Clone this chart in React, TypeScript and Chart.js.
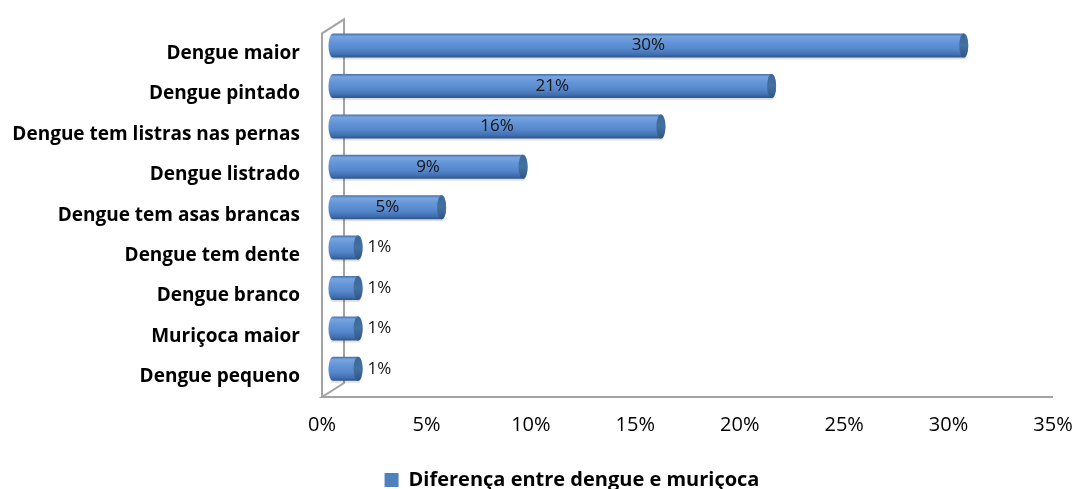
import React, { useEffect, useRef } from "react";
import { Chart, registerables } from "chart.js";

Chart.register(...registerables);

const categories = [
  "Dengue maior",
  "Dengue pintado",
  "Dengue tem listras nas pernas",
  "Dengue listrado",
  "Dengue tem asas brancas",
  "Dengue tem dente",
  "Dengue branco",
  "Muriçoca maior",
  "Dengue pequeno",
];
const values = [30.2, 21.0, 15.7, 9.1, 5.2, 1.2, 1.2, 1.2, 1.2];
const seriesName = "Diferença entre dengue e muriçoca";
const xMin = 0;
const xMax = 35;
const xStep = 5;

const FONT = "'Open Sans', Lato, sans-serif";
const DEPTH_X = 22;
const DEPTH_Y = -14;
const BAR_DX = 11;
const BAR_DY = -8;

const threeD = {
  id: "threeD",
  afterLayout(chart: any) {
    // let the category labels extend past the padded scale box without clipping
    if (chart.scales.y) chart.scales.y.left = 0;
  },
  beforeDatasetsDraw(chart: any) {
    const { ctx, chartArea: a } = chart;
    ctx.save();
    ctx.strokeStyle = "#a3a3a3";
    ctx.lineWidth = 2;
    ctx.beginPath();
    ctx.moveTo(a.left, a.bottom);
    ctx.lineTo(a.left, a.top);
    ctx.lineTo(a.left + DEPTH_X, a.top + DEPTH_Y);
    ctx.lineTo(a.left + DEPTH_X, a.bottom + DEPTH_Y);
    ctx.lineTo(a.left, a.bottom);
    ctx.lineTo(a.right, a.bottom);
    ctx.stroke();
    ctx.restore();
  },
  beforeDatasetDraw() {
    return false;
  },
  afterDatasetsDraw(chart: any) {
    const { ctx } = chart;
    const meta = chart.getDatasetMeta(0);
    const data = chart.data.datasets[0].data as number[];
    meta.data.forEach((el: any, i: number) => {
      const p = el.getProps(["x", "y", "base", "height"], true);
      const x0 = p.base + BAR_DX;
      const x1 = p.x + BAR_DX;
      const yc = p.y + BAR_DY;
      const h = p.height;
      const top = yc - h / 2;
      const bot = yc + h / 2;
      const rx = 4.5;
      const ry = h / 2;
      ctx.save();
      // soft shadow
      ctx.fillStyle = "rgba(0,0,0,0.12)";
      ctx.beginPath();
      ctx.ellipse(x0, yc + 2, rx, ry, 0, Math.PI / 2, (Math.PI * 3) / 2);
      ctx.lineTo(x1, top + 2);
      ctx.ellipse(x1, yc + 2, rx, ry, 0, -Math.PI / 2, Math.PI / 2);
      ctx.closePath();
      ctx.fill();
      // body
      const g = ctx.createLinearGradient(0, top, 0, bot);
      g.addColorStop(0, "#4170ad");
      g.addColorStop(0.12, "#79a5de");
      g.addColorStop(0.35, "#6495d8");
      g.addColorStop(0.65, "#5587cc");
      g.addColorStop(0.88, "#3f6eae");
      g.addColorStop(1, "#2c5388");
      ctx.fillStyle = g;
      ctx.beginPath();
      ctx.ellipse(x0, yc, rx, ry, 0, Math.PI / 2, (Math.PI * 3) / 2);
      ctx.lineTo(x1, top);
      ctx.ellipse(x1, yc, rx, ry, 0, -Math.PI / 2, Math.PI / 2);
      ctx.closePath();
      ctx.fill();
      // end cap
      const gc = ctx.createLinearGradient(0, top, 0, bot);
      gc.addColorStop(0, "#3c669d");
      gc.addColorStop(0.5, "#44719f");
      gc.addColorStop(1, "#2f5585");
      ctx.fillStyle = gc;
      ctx.beginPath();
      ctx.ellipse(x1, yc, rx, ry, 0, 0, Math.PI * 2);
      ctx.fill();
      ctx.restore();

      // data label
      const v = data[i];
      const txt = Math.round(v) + "%";
      ctx.save();
      ctx.font = `17px ${FONT}`;
      ctx.fillStyle = "#141414";
      ctx.textBaseline = "middle";
      if (v >= 3) {
        ctx.textAlign = "center";
        ctx.fillText(txt, (x0 + x1) / 2, yc);
      } else {
        ctx.textAlign = "left";
        ctx.fillText(txt, x1 + rx + 5, yc);
      }
      ctx.restore();
    });
  },
};

export default function App() {
  const ref = useRef<HTMLCanvasElement | null>(null);
  useEffect(() => {
    document.body.style.margin = "0";
    const canvas = ref.current;
    if (!canvas) return;
    const chart = new Chart(canvas, {
      type: "bar",
      data: {
        labels: categories,
        datasets: [
          {
            label: seriesName,
            data: values,
            backgroundColor: "#4f81bd",
            borderWidth: 0,
            barThickness: 24,
          },
        ],
      },
      options: {
        indexAxis: "y",
        responsive: false,
        animation: false,
        devicePixelRatio: 1,
        layout: { padding: { top: 30, right: 22, bottom: -11, left: 91 } },
        scales: {
          x: {
            min: xMin,
            max: xMax,
            grid: { display: false, drawTicks: false },
            border: { display: false },
            ticks: {
              stepSize: xStep,
              padding: 16,
              color: "#000",
              font: { family: FONT, size: 20 },
              maxRotation: 0,
              callback: (v: any) => v + "%",
            },
            afterFit: (s: any) => {
              s.height = 73;
              s.paddingRight = 0;
              s.paddingLeft = 0;
            },
          },
          y: {
            grid: { display: false, drawTicks: false },
            border: { display: false },
            ticks: {
              padding: 22,
              color: "#000",
              font: { family: FONT, size: 19, weight: "bold" },
            },
            afterFit: (s: any) => {
              s.width = 231;
            },
          },
        },
        plugins: {
          legend: {
            position: "bottom",
            labels: {
              boxWidth: 14,
              boxHeight: 14,
              padding: 0,
              color: "#000",
              font: { family: FONT, size: 20, weight: "bold", lineHeight: 1 },
            },
          },
          tooltip: { enabled: false },
        },
      },
      plugins: [threeD],
    });
    return () => chart.destroy();
  }, []);
  return (
    <div style={{ width: 1075, height: 489, background: "#fff" }}>
      <canvas ref={ref} width={1075} height={489} />
    </div>
  );
}
